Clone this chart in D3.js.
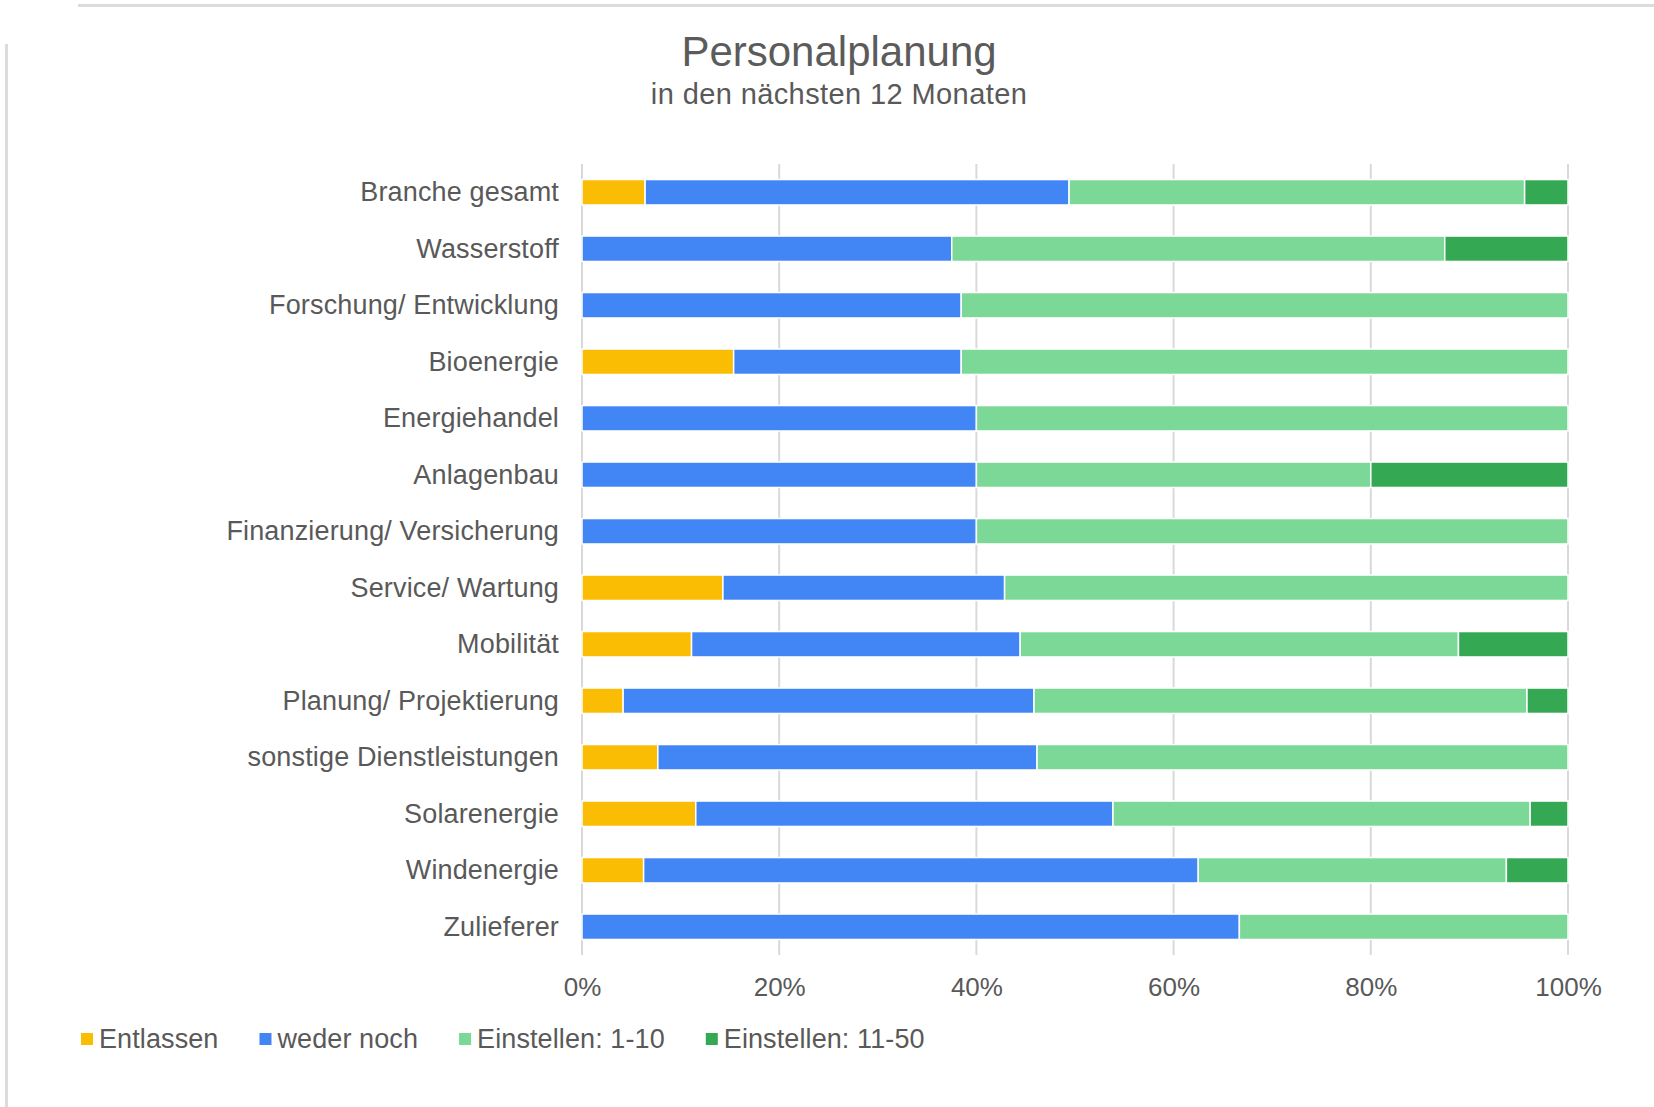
<!DOCTYPE html>
<html>
<head>
<meta charset="utf-8">
<script src="https://cdn.jsdelivr.net/npm/d3@7"></script>
<style>
  body { margin: 0; background: #fff; }
  svg text { font-family: Arial, "Liberation Sans", sans-serif; fill: #595959; }
</style>
</head>
<body>
<div class="canvas chart"></div>
<script>
// categories top to bottom
const categories = [
  'Branche gesamt', 'Wasserstoff', 'Forschung/ Entwicklung', 'Bioenergie',
  'Energiehandel', 'Anlagenbau', 'Finanzierung/ Versicherung', 'Service/ Wartung',
  'Mobilität', 'Planung/ Projektierung', 'sonstige Dienstleistungen',
  'Solarenergie', 'Windenergie', 'Zulieferer'
];

const seriesNames = ['Entlassen', 'weder noch', 'Einstellen: 1-10', 'Einstellen: 11-50'];
const seriesColours = ['#fbbc04', '#4285f4', '#7bd896', '#34a853'];

// shares in percent, one value per category
const entlassen   = [6.4, 0, 0, 15.38, 0, 0, 0, 14.29, 11.11, 4.17, 7.69, 11.54, 6.25, 0];
const wederNoch   = [43.0, 37.5, 38.46, 23.08, 40, 40, 40, 28.57, 33.33, 41.67, 38.46, 42.31, 56.25, 66.67];
const einst1to10  = [46.2, 50, 61.54, 61.54, 60, 40, 60, 57.14, 44.45, 50, 53.85, 42.31, 31.25, 33.33];
const einst11to50 = [4.4, 12.5, 0, 0, 0, 20, 0, 0, 11.11, 4.16, 0, 3.84, 6.25, 0];

const xTicks = [0, 20, 40, 60, 80, 100];

const width = 1654, height = 1107;

const svg = d3.select('.canvas.chart').append('svg')
    .attr('width', width)
    .attr('height', height);

// faint frame lines of the original screenshot
svg.append('line')
    .attr('x1', 78).attr('x2', width).attr('y1', 5.5).attr('y2', 5.5)
    .attr('stroke', '#dcdcdc').attr('stroke-width', 3);
svg.append('line')
    .attr('x1', 6.5).attr('x2', 6.5).attr('y1', 44).attr('y2', height)
    .attr('stroke', '#dcdcdc').attr('stroke-width', 3);

// title
svg.append('text')
    .attr('x', 839).attr('y', 66)
    .attr('text-anchor', 'middle')
    .style('font-size', '42px')
    .style('fill', '#5b5b5b')
    .text('Personalplanung');
svg.append('text')
    .attr('x', 839).attr('y', 104)
    .attr('text-anchor', 'middle')
    .style('font-size', '29px')
    .style('letter-spacing', '0.4px')
    .text('in den nächsten 12 Monaten');

// build table for the stack
const table = categories.map((c, i) => ({
  category: c,
  'Entlassen': entlassen[i],
  'weder noch': wederNoch[i],
  'Einstellen: 1-10': einst1to10[i],
  'Einstellen: 11-50': einst11to50[i]
}));

const stack = d3.stack().keys(seriesNames);
const stacked = stack(table);

const x = d3.scaleLinear().domain([0, 100]).range([582, 1568]);
const y = d3.scaleBand()
    .domain(categories)
    .range([164, 955])
    .paddingInner(0.55)
    .paddingOuter(0.275);
const colour = d3.scaleOrdinal().domain(seriesNames).range(seriesColours);

// grid lines
svg.append('g').selectAll('line')
    .data(xTicks)
    .enter().append('line')
    .attr('x1', d => x(d)).attr('x2', d => x(d))
    .attr('y1', 164).attr('y2', 955)
    .attr('stroke', '#d9d9d9')
    .attr('stroke-width', 2);

// bars
const layers = svg.append('g').selectAll('g')
    .data(stacked)
    .enter().append('g')
    .attr('fill', d => colour(d.key));

layers.selectAll('rect')
    .data(d => d.filter(s => s[1] - s[0] > 0))
    .enter().append('rect')
    .attr('x', d => x(d[0]))
    .attr('width', d => x(d[1]) - x(d[0]))
    .attr('y', d => y(d.data.category))
    .attr('height', y.bandwidth())
    .attr('stroke', '#fff')
    .attr('stroke-width', 1.5);

// category labels
svg.append('g').selectAll('text')
    .data(categories)
    .enter().append('text')
    .attr('x', 559)
    .attr('y', d => y(d) + y.bandwidth() / 2)
    .attr('dy', '0.34em')
    .attr('text-anchor', 'end')
    .style('font-size', '27px')
    .style('letter-spacing', '0.15px')
    .text(d => d);

// x axis labels
const xAxis = d3.axisBottom(x)
    .tickValues(xTicks)
    .tickFormat(d => d + '%')
    .tickSize(0)
    .tickPadding(0);

const axisG = svg.append('g')
    .attr('transform', 'translate(0, 978)')
    .call(xAxis);
axisG.select('.domain').remove();
axisG.selectAll('text')
    .attr('dy', '0.71em')
    .style('font-size', '26px')
    .style('fill', '#595959')
    .style('font-family', 'Arial, "Liberation Sans", sans-serif');

// legend
const legend = svg.append('g');
let lx = 81;
seriesNames.forEach((name, i) => {
  const item = legend.append('g').attr('transform', `translate(${lx}, 1039)`);
  item.append('rect')
      .attr('x', 0).attr('y', -6)
      .attr('width', 12).attr('height', 12)
      .attr('fill', seriesColours[i]);
  const t = item.append('text')
      .attr('x', 18).attr('y', 0)
      .attr('dy', '0.34em')
      .style('font-size', '27px')
      .style('letter-spacing', '0.1px')
      .text(name);
  lx += 18 + t.node().getComputedTextLength() + 41;
});
</script>
</body>
</html>
